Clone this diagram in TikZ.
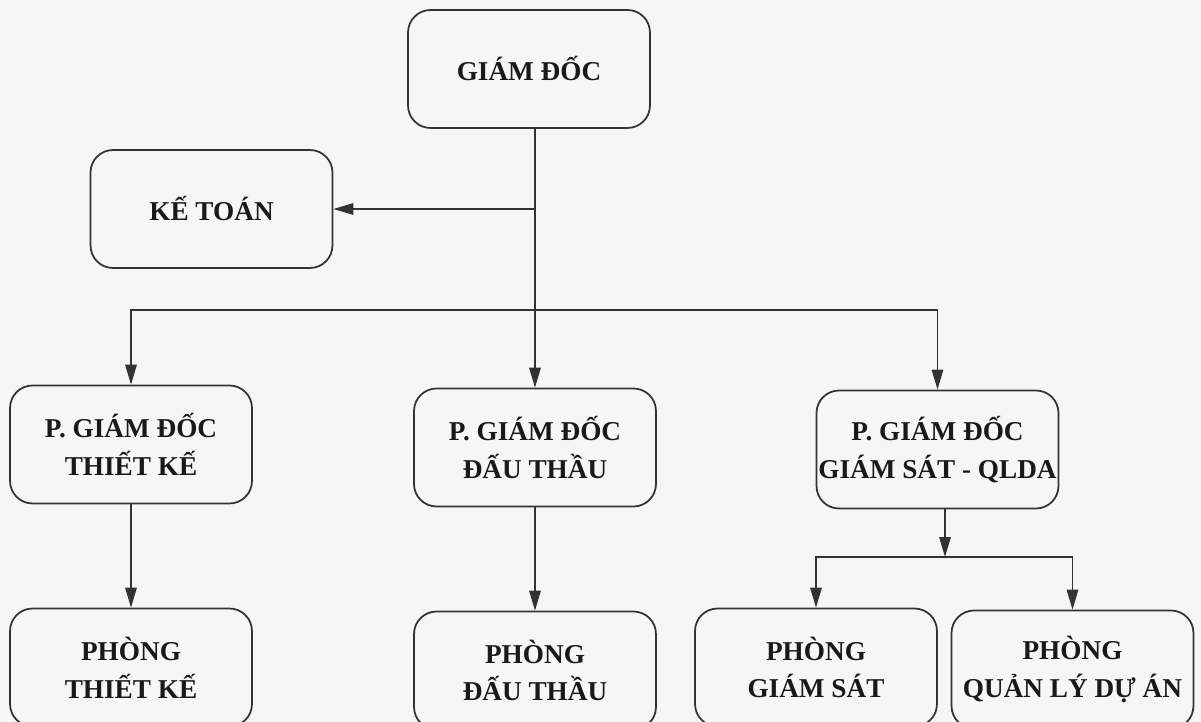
\documentclass[tikz,border=0pt]{standalone}
\usepackage{fontspec}
\setmainfont{Liberation Serif}
\usetikzlibrary{arrows.meta,calc}
\definecolor{ink}{HTML}{333333}
\definecolor{paper}{HTML}{F6F6F7}
\tikzset{
  box/.style={draw=ink, line width=1pt, rounded corners=0.45cm, fill=paper,
    minimum width=4.84cm, minimum height=2.36cm, align=center,
    font=\bfseries\fontsize{15.5}{21.5}\selectfont, text=black!90, inner sep=0pt},
  conn/.style={draw=ink, line width=0.9pt},
  arr/.style={conn, -{Triangle[length=4mm,width=2.3mm]}}
}
\begin{document}
\begin{tikzpicture}[x=0.02cm,y=-0.02cm]
\fill[paper] (0,0) rectangle (1201,722);
\useasboundingbox (0,0) rectangle (1201,722);
\clip (0,0) rectangle (1201,722);
\node[box] (gd) at (529,69) {GIÁM ĐỐC};
\node[box] (kt) at (211.5,209) {KẾ TOÁN};
\node[box] (p1) at (131,444.5) {P. GIÁM ĐỐC\\THIẾT KẾ};
\node[box] (p2) at (535,447.5) {P. GIÁM ĐỐC\\ĐẤU THẦU};
\node[box] (p3) at (937.5,449.5) {P. GIÁM ĐỐC\\GIÁM SÁT - QLDA};
\node[box] (b1) at (131,667.5) {PHÒNG\\THIẾT KẾ};
\node[box] (b2) at (535,670.5) {PHÒNG\\ĐẤU THẦU};
\node[box] (b3) at (816,667.5) {PHÒNG\\GIÁM SÁT};
\node[box] (b4) at (1072.5,669.5) {PHÒNG\\QUẢN LÝ DỰ ÁN};
\coordinate (bus) at (535,310);
\coordinate (j) at (945,557);
\draw[arr] (p2.north |- gd.south) -- (p2.north);
\draw[arr] (p2.north |- kt.east) -- (kt.east);
\draw[arr] (bus) -| (p1.north);
\draw[arr] (bus) -| (p3.north);
\draw[arr] (p1.south) -- (b1.north);
\draw[arr] (p2.south) -- (b2.north);
\draw[arr] (j |- p3.south) -- (j);
\draw[arr] (j) -| (b3.north);
\draw[arr] (j) -| (b4.north);
\end{tikzpicture}
\end{document}
